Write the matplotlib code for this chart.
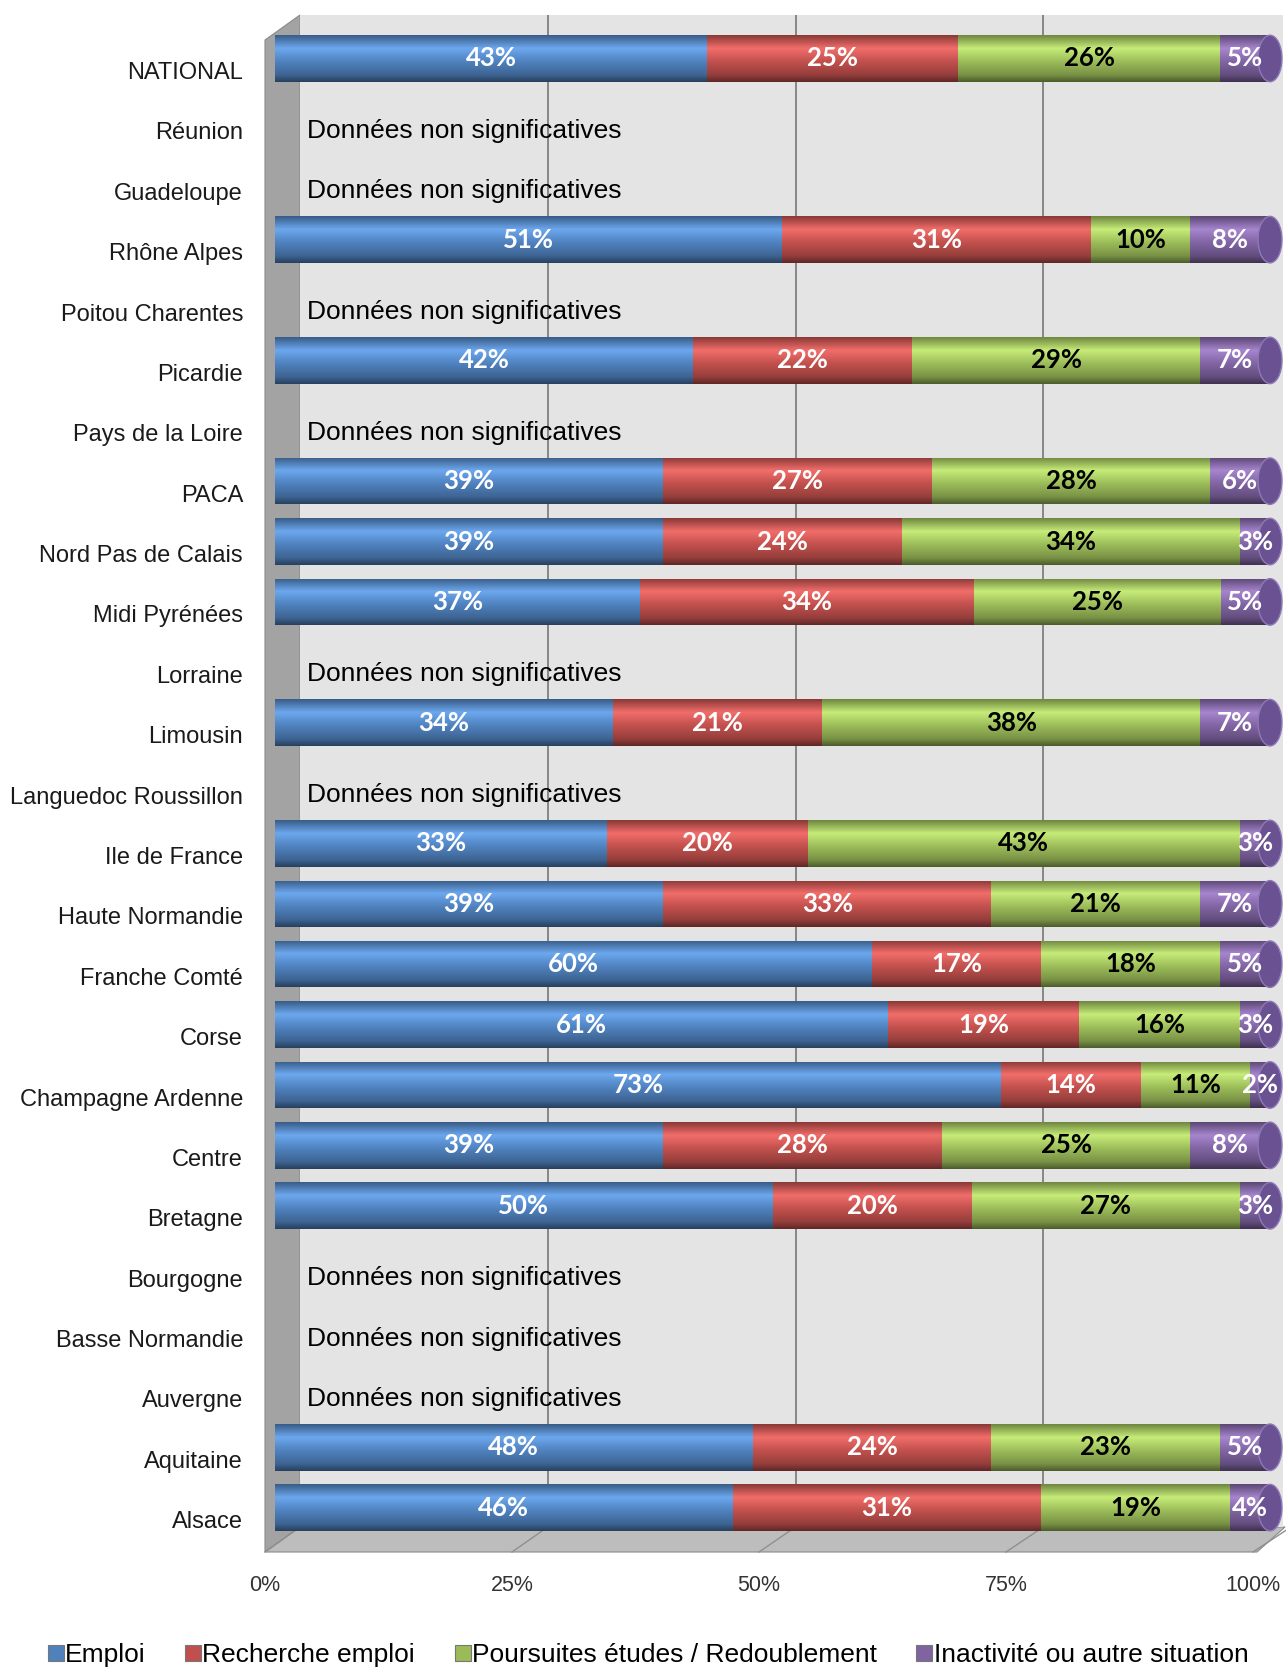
import numpy as np
import matplotlib
matplotlib.use('Agg')
import matplotlib.pyplot as plt
from matplotlib.colors import LinearSegmentedColormap, to_rgb
from matplotlib.patches import Polygon, Ellipse
from matplotlib.lines import Line2D

regions = ['NATIONAL', 'Réunion', 'Guadeloupe', 'Rhône Alpes', 'Poitou Charentes',
           'Picardie', 'Pays de la Loire', 'PACA', 'Nord Pas de Calais', 'Midi Pyrénées',
           'Lorraine', 'Limousin', 'Languedoc Roussillon', 'Ile de France',
           'Haute Normandie', 'Franche Comté', 'Corse', 'Champagne Ardenne', 'Centre',
           'Bretagne', 'Bourgogne', 'Basse Normandie', 'Auvergne', 'Aquitaine', 'Alsace']

# None = "Données non significatives"
emploi     = [43, None, None, 51, None, 42, None, 39, 39, 37, None, 34, None, 33, 39, 60, 61, 73, 39, 50, None, None, None, 48, 46]
recherche  = [25, None, None, 31, None, 22, None, 27, 24, 34, None, 21, None, 20, 33, 17, 19, 14, 28, 20, None, None, None, 24, 31]
poursuites = [26, None, None, 10, None, 29, None, 28, 34, 25, None, 38, None, 43, 21, 18, 16, 11, 25, 27, None, None, None, 23, 19]
inactivite = [5, None, None, 8, None, 7, None, 6, 3, 5, None, 7, None, 3, 7, 5, 3, 2, 8, 3, None, None, None, 5, 4]

series_names = ['Emploi', 'Recherche emploi', 'Poursuites études / Redoublement',
                'Inactivité ou autre situation']
colors = ['#4F81BD', '#C0504D', '#9BBB59', '#8064A2']
label_colors = ['white', 'white', 'black', 'white']
tick_pcts = [0, 25, 50, 75, 100]

W, H = 1286, 1671
fig = plt.figure(figsize=(W / 100, H / 100), dpi=100)
fig.patch.set_facecolor('white')


def box(x0, y0, x1, y1):
    # pixel box (top-left origin) -> figure fraction rect
    return [x0 / W, 1 - y1 / H, (x1 - x0) / W, (y1 - y0) / H]


def fpoly(pts, **kw):
    p = Polygon([(x / W, 1 - y / H) for x, y in pts], closed=True,
                transform=fig.transFigure, zorder=-1, **kw)
    fig.add_artist(p)


# back wall with gridlines
ax_back = fig.add_axes(box(300, 15, 1283, 1527))
ax_back.set_facecolor('#e4e4e4')
ax_back.set_xlim(0, 983 / 991 * 100)
ax_back.set_ylim(0, 1)
for g in tick_pcts[1:-1]:
    ax_back.axvline(g, color='#7f7f7f', lw=1.3)
ax_back.set_xticks([])
ax_back.set_yticks([])
for s in ax_back.spines.values():
    s.set_visible(False)

# left wall and floor
fpoly([(265, 40), (300, 15), (300, 1527), (265, 1552)], facecolor='#a3a3a3', edgecolor='#8a8a8a', lw=0.8)
fpoly([(265, 1552), (300, 1527), (1285, 1527), (1257, 1552)], facecolor='#bdbdbd', edgecolor='#8a8a8a', lw=0.8)
for k, g in enumerate(tick_pcts):
    xb = 300 + g / 100 * 991
    xf = 265 + g / 100 * 988
    fig.add_artist(Line2D([xb / W, xf / W], [1 - 1527 / H, 1 - 1552 / H],
                          transform=fig.transFigure, color='#8f8f8f', lw=1, zorder=-0.5))

# floor front edge carries the percentage ticks
ax_floor = fig.add_axes(box(265, 1552, 1253, 1553))
ax_floor.set_xlim(0, 100)
ax_floor.set_xticks(tick_pcts)
ax_floor.set_xticklabels([f'{t}%' for t in tick_pcts], fontsize=15.5,
                         family='Liberation Sans', color='#333333')
ax_floor.tick_params(axis='x', length=0, pad=16)
ax_floor.set_yticks([])
ax_floor.patch.set_alpha(0)
for s in ax_floor.spines.values():
    s.set_visible(False)

# bars
ax = fig.add_axes(box(275, 15, 1270, 1530))
ax.patch.set_alpha(0)
for s in ax.spines.values():
    s.set_visible(False)

n = len(regions)
y = np.arange(n)
bar_h = 0.77
data = np.array([[np.nan if v is None else v for v in s]
                 for s in (emploi, recherche, poursuites, inactivite)], dtype=float)
totals = np.nansum(data, axis=0)
grad = np.linspace(0, 1, 80).reshape(-1, 1)


def cyl_cmap(c):
    r = np.array(to_rgb(c))
    light = np.minimum(r * 1.18 + 0.06, 1)
    stops = [r * 0.72, light, r * 1.02, r * 0.78, r * 0.5]
    return LinearSegmentedColormap.from_list('cyl', list(zip([0, 0.28, 0.55, 0.85, 1.0], stops)))


left = np.zeros(n)
for si in range(4):
    vals = data[si]
    mask = ~np.isnan(vals)
    widths = np.where(mask, vals / np.where(totals > 0, totals, 1) * 100, 0)
    bars = ax.barh(y[mask], widths[mask], left=left[mask], height=bar_h,
                   color=colors[si], edgecolor='none', zorder=2)
    cmap = cyl_cmap(colors[si])
    for b, raw in zip(bars, vals[mask]):
        bx, by, bw, bh = b.get_x(), b.get_y(), b.get_width(), b.get_height()
        im = ax.imshow(grad, cmap=cmap, extent=(bx, bx + bw, by + bh, by),
                       aspect='auto', origin='upper', zorder=2.5, interpolation='bilinear')
        im.set_clip_path(b)
        ax.text(bx + bw / 2, by + bh / 2, f'{int(raw)}%', ha='center', va='center',
                fontsize=18.5, fontweight='bold', family='Lato',
                color=label_colors[si], zorder=4)
    left[mask] += widths[mask]

# end caps of the cylinders
for i in y[totals > 0]:
    ax.add_patch(Ellipse((100, i), 2.4, bar_h, facecolor='#6a5192',
                         edgecolor='#8e79b6', lw=1.0, zorder=3, clip_on=False))

# rows without data
for i in y[totals == 0]:
    ax.text(3.2, i + 0.2, 'Données non significatives', ha='left', va='center',
            fontsize=19, family='Liberation Sans', color='black', zorder=4)

ax.set_xlim(0, 100)
ax.set_ylim(24.37, -0.72)
ax.set_xticks([])
ax.set_yticks(y + 0.2)
ax.set_yticklabels(regions, fontsize=17, family='Liberation Sans', color='#1a1a1a')
ax.tick_params(axis='y', length=0, pad=23)

handles = [Line2D([], [], marker='s', linestyle='none', markersize=11,
                  markerfacecolor=c, markeredgecolor='#777777', markeredgewidth=0.8)
           for c in colors]
fig.legend(handles, series_names, loc='center', bbox_to_anchor=(0.504, 1 - 1655 / H),
           ncol=4, frameon=False, handlelength=0.6, handletextpad=0.05,
           columnspacing=1.5, prop={'family': 'Liberation Sans', 'size': 19})

fig.savefig('out.png', dpi=100)
